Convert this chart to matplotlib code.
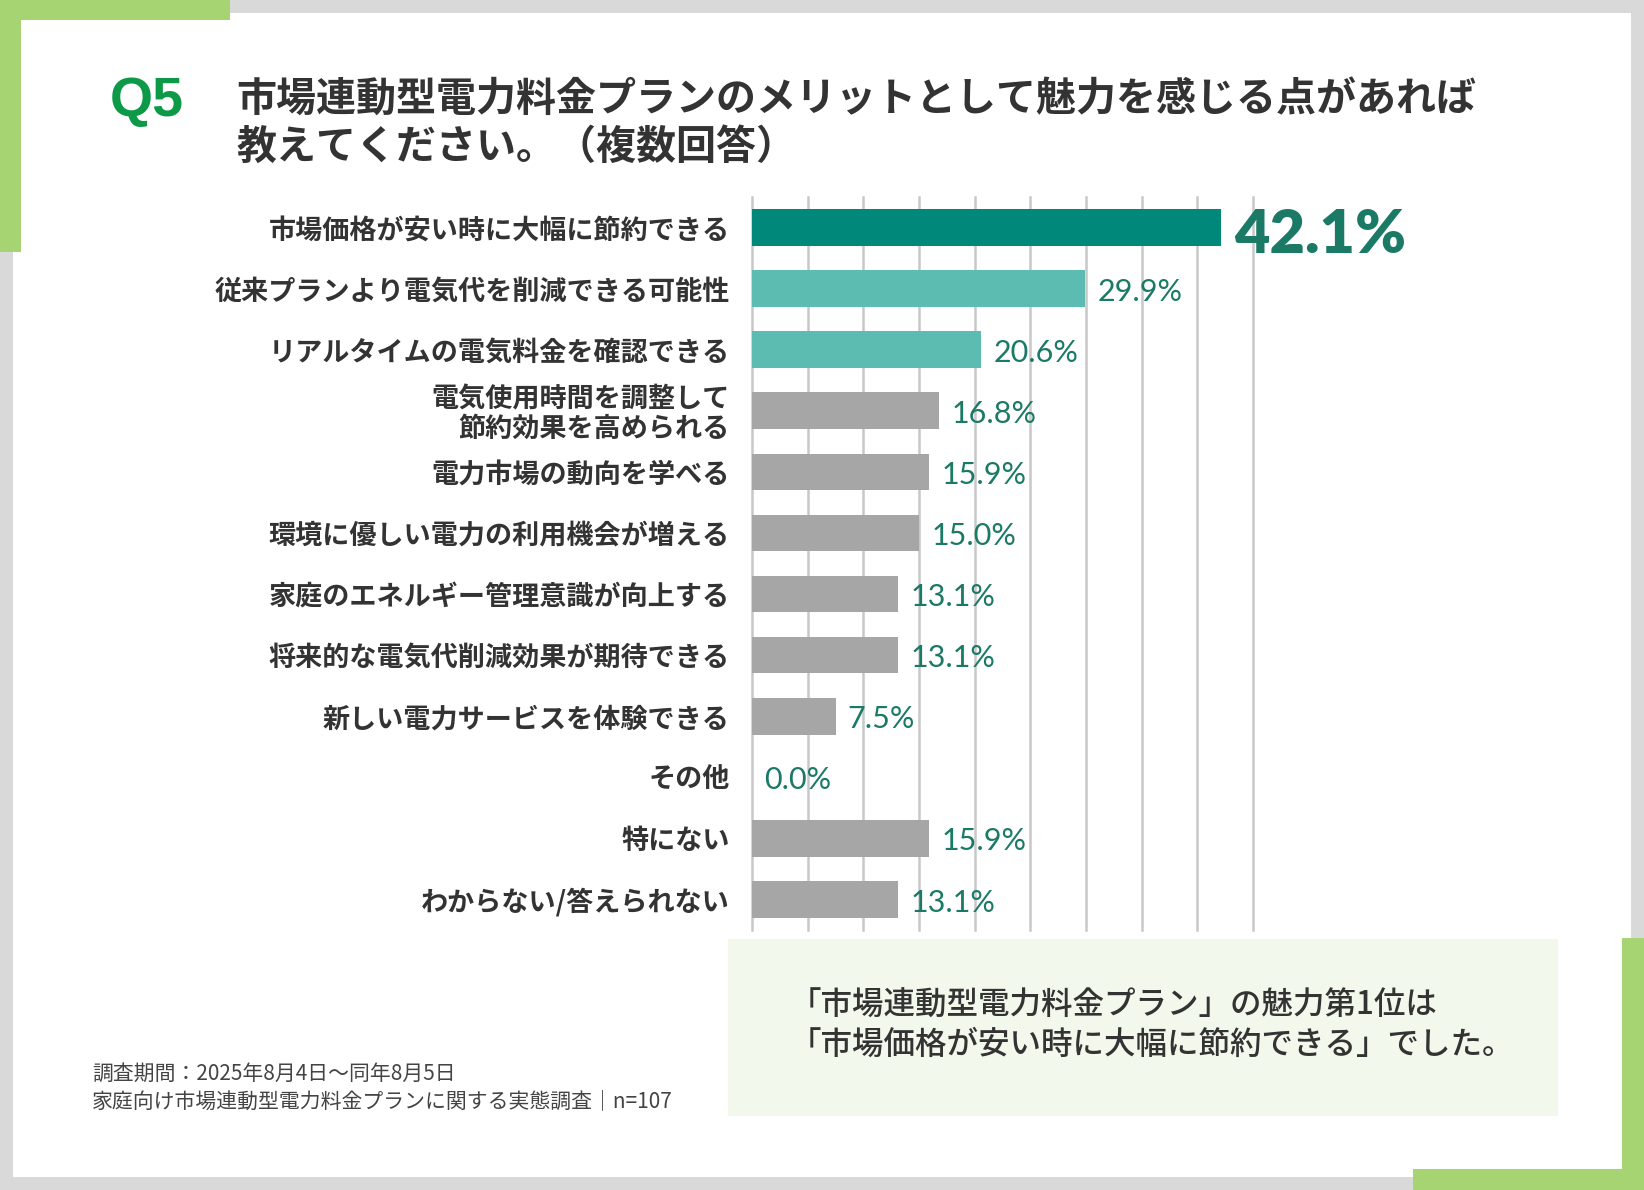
import matplotlib.pyplot as plt
from matplotlib.patches import Rectangle

plt.rcParams["font.family"] = ["Noto Sans CJK JP", "DejaVu Sans"]

W, H = 1644, 1190

categories = [
    "市場価格が安い時に大幅に節約できる",
    "従来プランより電気代を削減できる可能性",
    "リアルタイムの電気料金を確認できる",
    "電気使用時間を調整して\n節約効果を高められる",
    "電力市場の動向を学べる",
    "環境に優しい電力の利用機会が増える",
    "家庭のエネルギー管理意識が向上する",
    "将来的な電気代削減効果が期待できる",
    "新しい電力サービスを体験できる",
    "その他",
    "特にない",
    "わからない/答えられない",
]
values = [42.1, 29.9, 20.6, 16.8, 15.9, 15.0, 13.1, 13.1, 7.5, 0.0, 15.9, 13.1]

title_lines = ["市場連動型電力料金プランのメリットとして魅力を感じる点があれば",
               "教えてください。（複数回答）"]
summary_lines = ["「市場連動型電力料金プラン」の魅力第1位は",
                 "「市場価格が安い時に大幅に節約できる」でした。"]
footer_lines = ["調査期間：2025年8月4日～同年8月5日",
                "家庭向け市場連動型電力料金プランに関する実態調査｜n=107"]

bar_colors = ["#00897b", "#5dbcb2", "#5dbcb2"] + ["#a6a6a6"] * 9
label_color = "#1b7a66"
text_dark = "#333333"
frame_gray = "#d9d9d9"
frame_green = "#a6d472"


def fx(x):
    return x / W


def fy(y):
    return 1 - y / H


def box(x0, y0, x1, y1, color):
    fig.add_artist(Rectangle((fx(x0), fy(y1)), fx(x1 - x0), (y1 - y0) / H,
                             transform=fig.transFigure, color=color, lw=0, zorder=0))


fig = plt.figure(figsize=(W / 100, H / 100), dpi=100, facecolor="white")

# frame
box(0, 0, W, 13, frame_gray)
box(0, 1177, W, H, frame_gray)
box(0, 0, 13, H, frame_gray)
box(1631, 0, W, H, frame_gray)
box(0, 0, 230, 20, frame_green)
box(0, 0, 21, 252, frame_green)
box(1622, 938, W, H, frame_green)
box(1413, 1169, W, H, frame_green)

# heading
fig.text(fx(110), fy(102), "Q5", family=["Liberation Sans"], fontweight="bold",
         fontsize=40, color="#0d9a48", va="center", ha="left")
for i, line in enumerate(title_lines):
    fig.text(fx(236), fy(100 + 47 * i), line, fontsize=28.8, fontweight="bold",
             color=text_dark, va="center", ha="left")

# bar chart
ax = fig.add_axes([fx(752), fy(930), fx(1253 - 752), (930 - 197) / H])
ax.set_facecolor("none")
ypos = list(range(len(categories)))
ax.barh(ypos, values, height=0.6, color=bar_colors, zorder=3)
ax.set_xlim(0, 45)
ax.set_ylim(len(categories) - 0.5, -0.5)
ax.set_xticks(range(0, 50, 5))
ax.grid(axis="x", color="#c8c8c8", lw=1.8, zorder=0)
for g in ax.xaxis.get_gridlines():
    g.set_clip_on(False)
ax.tick_params(axis="x", length=0, labelbottom=False)
ax.set_yticks(ypos)
ax.set_yticklabels(categories, fontsize=19.5, fontweight="bold", color=text_dark)
ax.tick_params(axis="y", length=0, pad=16)
for lbl in ax.get_yticklabels():
    lbl.set_linespacing(1.05)
for s in ax.spines.values():
    s.set_visible(False)

for i, v in enumerate(values):
    if i == 0:
        ax.text(v + 1.2, i + 0.12, f"{v:.1f}%", family=["Lato"], fontweight="heavy",
                fontsize=44, color=label_color, va="center", ha="left")
    else:
        ax.text(v + 1.1, i + 0.05, f"{v:.1f}%", family=["Lato"], fontsize=22,
                color=label_color, va="center", ha="left")

# summary box
box(728, 939, 1558, 1116, "#f3f8ec")
for i, line in enumerate(summary_lines):
    fig.text(fx(790), fy(1006 + 39 * i), line, fontsize=22.7, fontweight="medium",
             color=text_dark, va="center", ha="left")

# footer
for i, line in enumerate(footer_lines):
    fig.text(fx(92), fy(1074 + 27 * i), line, fontsize=15, color="#444444",
             va="center", ha="left")

fig.savefig("out.png", dpi=100, facecolor="white")
